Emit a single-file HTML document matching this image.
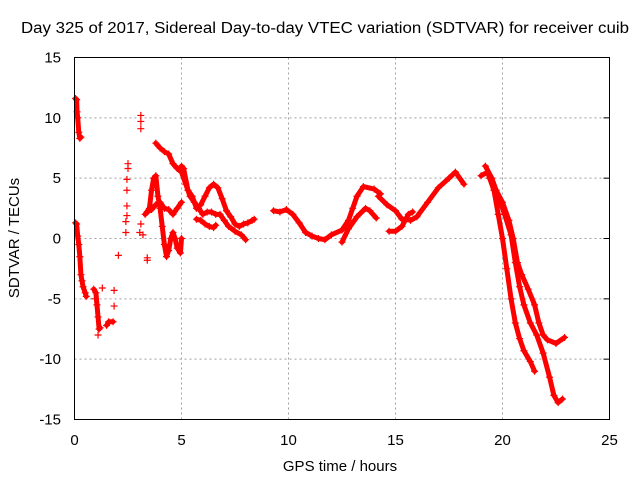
<!DOCTYPE html>
<html><head><meta charset="utf-8"><style>
body{margin:0;background:#fff;}
svg{display:block;font-family:"Liberation Sans",sans-serif;}
</style></head><body>
<svg id="chart" width="640" height="480">
<text x="325" y="33" font-size="15.5" textLength="608" lengthAdjust="spacingAndGlyphs" text-anchor="middle">Day 325 of 2017, Sidereal Day-to-day VTEC variation (SDTVAR) for receiver cuib</text>
<text x="340" y="471" font-size="15" text-anchor="middle">GPS time / hours</text>
<text transform="translate(19,238) rotate(-90)" font-size="15" text-anchor="middle">SDTVAR / TECUs</text>
<g id="grid"></g><g id="marks"></g>
<rect x="74.5" y="57.5" width="535" height="362" fill="none" stroke="#000"/>
</svg>
<script>
const xTicks=[0,5,10,15,20,25];
const yTicks=[-15,-10,-5,0,5,10,15];
const trackA=[[0.05,11.6],[0.1,11.5],[0.12,10.5],[0.15,10],[0.2,8.8],[0.25,8.3],[0.3,8.4]];
const trackB=[[0.05,1.3],[0.1,1.2],[0.15,0.2],[0.2,-0.5],[0.25,-1.5],[0.3,-3],[0.35,-3.5],[0.4,-4],[0.5,-4.5],[0.55,-4.8]];
const trackC=[[0.9,-4.2],[1.0,-4.5],[1.05,-5.5],[1.1,-6.5],[1.15,-7.5],[1.2,-7.4]];
const trackC2=[[1.5,-7.2],[1.6,-6.9],[1.8,-6.9]];
const scatter=[[1.85,-4.3],[1.85,-5.6],[2.05,-1.4],[2.4,0.5],[2.4,1.4],[2.45,1.9],[2.45,2.7],[2.45,4],[2.45,4.9],[2.5,5.8],[2.5,6.2],[3.1,10.2],[3.1,9.7],[3.1,9.1],[3.05,0.5],[3.1,1.2],[3.2,0.3],[3.4,-1.6],[3.4,-1.8],[1.3,-4.1],[0.95,-5],[1.1,-8]];
const trackD=[[3.3,2],[3.5,2.5],[3.6,4],[3.7,5],[3.8,5.2],[3.9,3.5],[4.0,2.5],[4.1,1],[4.2,-0.5],[4.3,-1.5],[4.4,-1],[4.5,0],[4.6,0.5],[4.7,0],[4.8,-0.8],[4.95,-1.2],[5.0,0]];
const trackD2=[[3.4,2.2],[3.6,2.4],[3.8,2.8],[4.0,3],[4.2,2.5],[4.4,2.4],[4.6,2.0],[4.8,2.5],[5.0,3]];
const trackE=[[3.8,7.9],[4.0,7.5],[4.2,7.2],[4.4,7.0],[4.6,6.2],[4.8,5.8],[5.0,5.5],[5.2,4.5],[5.4,3.5],[5.6,3],[5.8,2.5],[6.0,2.0],[6.2,2.2],[6.4,2.2],[6.6,2.0],[6.8,2.0],[7.0,1.5],[7.2,1],[7.5,0.6],[7.8,0.3],[8.0,-0.1]];
const trackF=[[5.0,6],[5.1,5.8],[5.3,4],[5.5,3.5],[5.7,2.5],[5.9,2.8],[6.1,3.5],[6.3,4.2],[6.5,4.5],[6.7,4.2],[6.9,3.3],[7.1,2.3],[7.3,1.8],[7.5,1.2],[7.7,1.0],[7.9,1.2],[8.1,1.3],[8.3,1.5],[8.4,1.6]];
const trackG=[[5.7,1.6],[5.9,1.5],[6.1,1.2],[6.3,1.0],[6.5,0.9],[6.6,1.1]];
const trackH=[[9.3,2.3],[9.6,2.2],[9.9,2.4],[10.2,2.0],[10.5,1.3],[10.8,0.5],[11.1,0.2],[11.4,0],[11.7,-0.1],[12.0,0.3],[12.5,0.7],[12.8,1.5],[13.0,2.5],[13.2,3.5],[13.5,4.3],[14.0,4.1],[14.3,3.7]];
const trackH2=[[14.2,3.5],[14.6,2.8],[15.0,2.3],[15.3,1.6],[15.5,1.6],[15.7,1.5],[16.0,1.8],[16.5,3],[17.0,4.2],[17.5,5.0],[17.8,5.5],[18.2,4.5]];
const trackI=[[12.5,-0.3],[12.8,0.8],[13.2,1.8],[13.6,2.5],[13.8,2.3],[14.1,1.7]];
const trackJ=[[14.7,0.6],[15.0,0.6],[15.3,1],[15.6,2.0],[15.8,2.2]];
const trackK=[[19.0,5.2],[19.3,5.5],[19.6,4],[19.8,2],[20.0,0],[20.2,-2.5],[20.4,-5],[20.6,-7],[20.8,-8.3],[21.0,-9.3],[21.3,-10.2],[21.5,-11]];
const trackL=[[19.2,6],[19.5,5],[19.8,3.5],[20.1,2],[20.4,0.3],[20.6,-2],[20.8,-4],[21.0,-5.5],[21.3,-7],[21.6,-8],[21.9,-9.5],[22.2,-11.5],[22.4,-13],[22.6,-13.6],[22.8,-13.3]];
const trackM=[[19.4,5],[19.7,4],[20.0,3],[20.3,1.5],[20.5,0],[20.7,-2],[20.9,-3],[21.2,-4.2],[21.5,-5.5],[21.7,-7],[21.9,-8],[22.1,-8.4],[22.5,-8.7],[22.9,-8.2]];
const tracks=[trackA,trackB,trackC,trackC2,trackD,trackD2,trackE,trackF,trackG,trackH,trackH2,trackI,trackJ,trackK,trackL,trackM];

const X0=74.5,X1=609.5,Y0=419.5,Y1=57.5;
function sx(t){return X0+(t-0)/(25-0)*(X1-X0);}
function sy(v){return Y0-(v+15)/30*(Y0-Y1);}
const NS="http://www.w3.org/2000/svg";
const svg=document.getElementById('chart');
const grid=document.getElementById('grid');
const marks=document.getElementById('marks');
function mk(tag,attrs,parent){const e=document.createElementNS(NS,tag);for(const k in attrs)e.setAttribute(k,attrs[k]);parent.appendChild(e);return e;}
xTicks.forEach(t=>{
  const x=sx(t);
  if(t>0&&t<25){const g=mk('line',{x1:x,x2:x,y1:Y0,y2:Y1,stroke:'#a0a0a0','stroke-dasharray':'2,3'},grid);
  
  }
  const lb=mk('text',{x:x,y:445,'font-size':15,'text-anchor':'middle'},svg);
  lb.textContent=t;
  
  
});
yTicks.forEach(v=>{
  const y=sy(v);
  if(v>-15&&v<15){const g=mk('line',{x1:X0,x2:X1,y1:y,y2:y,stroke:'#a0a0a0','stroke-dasharray':'2,3'},grid);
  
  
  mk('line',{x1:X1,x2:X1-6,y1:y,y2:y,stroke:'#000'},grid);}
  const lb=mk('text',{x:61,y:y+5,'font-size':15,'text-anchor':'end'},svg);
  lb.textContent=v;
  
  
});
function plus(t,v){
  const x=sx(t),y=sy(v);
  const p=mk('path',{d:`M${x-3.5},${y}h7M${x},${y-3.5}v7`,stroke:'#f00','stroke-width':1.2,fill:'none'},marks);
  
  
}
tracks.forEach(tr=>{
  const pl=mk('polyline',{points:tr.map(p=>sx(p[0])+','+sy(p[1])).join(' '),fill:'none',stroke:'#f00','stroke-width':5,'stroke-linejoin':'round','stroke-linecap':'round'},marks);
  
  
  tr.forEach(p=>plus(p[0],p[1]));
});
scatter.forEach(p=>plus(p[0],p[1]));
</script>
</body></html>
